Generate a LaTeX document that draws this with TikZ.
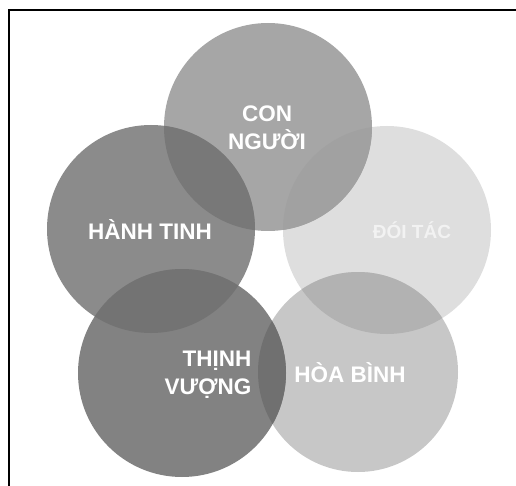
\documentclass[tikz,border=0pt]{standalone}
\usepackage{fontspec}
\setmainfont{Liberation Sans}
\definecolor{conc}{gray}{0.65}
\definecolor{hanhc}{gray}{0.545}
\definecolor{doic}{gray}{0.87}
\definecolor{hoac}{gray}{0.78}
\definecolor{thinhc}{gray}{0.51}
\tikzset{
  petal/.style={circle, inner sep=0pt, outer sep=0pt, minimum size=208pt},
  word/.style={text=white, font=\bfseries\fontsize{22.5}{28}\selectfont, align=center}
}
\begin{document}
\begin{tikzpicture}[x=1pt, y=-1pt]
        \useasboundingbox (0,0) rectangle (516,486);
        % Frame
        \draw[line width=2.6pt] (9,486) -- (9,10) -- (516,10);

        % Circles
        \node (doi) [petal, fill=doic] at (387,230) {};
        \node (hoa) [petal, fill=hoac, minimum size=200pt] at (358,372) {};
        \node (con) [petal, fill=conc] at (268,127) {};
        \node (hanh) [petal, fill=hanhc] at (151,229) {};
        \node (thinh) [petal, fill=thinhc] at (182,373) {};

        % Overlaps
        \begin{scope}
          \clip (con.center) circle (104pt);
          \fill[black!53] (hanh.center) circle (104pt);
          \fill[black!37] (doi.center) circle (104pt);
        \end{scope}
        \begin{scope}
          \clip (hoa.center) circle (100pt);
          \fill[black!30] (doi.center) circle (104pt);
          \fill[black!56] (thinh.center) circle (104pt);
        \end{scope}
        \begin{scope}
          \clip (thinh.center) circle (104pt);
          \fill[black!55] (hanh.center) circle (104pt);
        \end{scope}

        % Labels
        \node (tcon) [word] at (267,128) {CON\\NGƯỜI};
        \node (thanh) [word] at (150,230) {HÀNH TINH};
        \node (tdoi) [word, text=white!90!gray, font=\bfseries\fontsize{19}{24}\selectfont] at (412,230) {ĐÓI TÁC};
        \node (tthinh) [word, align=right] at (208,375) {THỊNH\\VƯỢNG};
        \node (thoa) [word] at (350,373) {HÒA BÌNH};
\end{tikzpicture}
\end{document}
